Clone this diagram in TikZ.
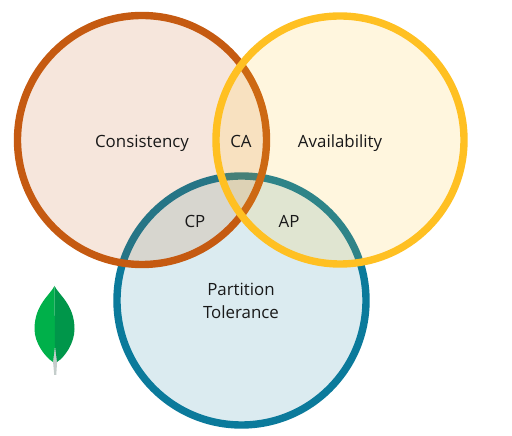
\documentclass[tikz,border=0pt]{standalone}
\usepackage{fontspec}
\setmainfont{Open Sans}
\definecolor{consred}{HTML}{C55A11}
\definecolor{availyel}{HTML}{FFC022}
\definecolor{partblue}{HTML}{0B7A9B}
\definecolor{leafleft}{HTML}{00B04A}
\definecolor{leafright}{HTML}{00964A}
\definecolor{leafstem}{HTML}{C4CDCB}
\tikzset{
  setring/.style={draw=#1,fill=#1,line width=0.148cm,fill opacity=0.15},
  setlabel/.style={font=\fontsize{9.6pt}{13.5pt}\selectfont,text=black!90,align=center,inner sep=0pt},
}

\begin{document}
\begin{tikzpicture}[x=1cm,y=1cm]
\useasboundingbox (0,0) rectangle (10.24,8.72);
\draw[setring=partblue] (4.83,2.71) circle (2.49);
\draw[setring=consred] (2.84,5.92) circle (2.49);
\draw[setring=availyel] (6.80,5.92) circle (2.48);
% leaf
\fill[leafstem] (1.05,1.60) -- (1.10,1.80) -- (1.15,1.60) -- (1.125,1.22) -- (1.085,1.22) -- cycle;
\fill[leafleft] (1.09,3.00) .. controls (1.00,2.82) and (0.69,2.62) .. (0.69,2.14) .. controls (0.69,1.86) and (0.90,1.58) .. (1.06,1.48) -- (1.10,1.80) -- cycle;
\fill[leafright] (1.09,3.00) .. controls (1.18,2.82) and (1.49,2.62) .. (1.49,2.14) .. controls (1.49,1.86) and (1.30,1.58) .. (1.14,1.48) -- (1.10,1.80) -- cycle;
\node[setlabel] (cons) at (2.84,5.86) {Consistency};
\node[setlabel] (avail) at (6.80,5.86) {Availability};
\node[setlabel] (ca) at (4.82,5.89) {CA};
\node[setlabel] (cp) at (3.90,4.29) {CP};
\node[setlabel] (ap) at (5.78,4.29) {AP};
\node[setlabel] (part) at (4.82,2.70) {Partition\\Tolerance};
\end{tikzpicture}
\end{document}
